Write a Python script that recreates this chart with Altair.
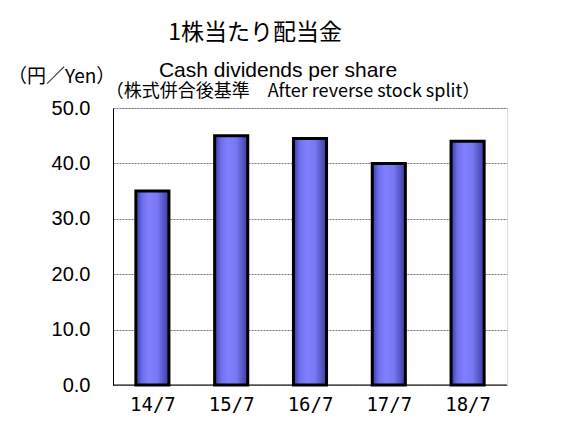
import altair as alt
import pandas as pd

categories = ["14/7", "15/7", "16/7", "17/7", "18/7"]
values = [35.0, 45.0, 44.5, 40.0, 44.0]
title_main = "1株当たり配当金"
title_en = "Cash dividends per share"
title_note = "（株式併合後基準\u3000After reverse stock split）"
unit_label = "（円／Yen）"

df = pd.DataFrame({"period": categories, "dividend": values})

W, H = 394, 277
JP = "Noto Sans CJK JP"

grad = alt.Gradient(
    gradient="linear",
    x1=0, x2=1, y1=0, y2=0,
    stops=[
        alt.GradientStop(color="#3a3aa8", offset=0.0),
        alt.GradientStop(color="#7070ee", offset=0.2),
        alt.GradientStop(color="#8080ff", offset=0.4),
        alt.GradientStop(color="#7878f4", offset=0.65),
        alt.GradientStop(color="#3c3ca0", offset=1.0),
    ],
)

x_enc = alt.X(
    "period:N",
    sort=categories,
    scale=alt.Scale(paddingInner=0.58, paddingOuter=0.29),
    axis=alt.Axis(
        title=None, labelAngle=0, domain=False, tickBand="extent",
        tickSize=6, tickColor="black", tickWidth=1, offset=-6,
        labelFont="DejaVu Sans Mono", labelFontSize=19, labelColor="black",
        labelPadding=10,
    ),
)
y_enc = alt.Y(
    "dividend:Q",
    scale=alt.Scale(domain=[0, 50]),
    axis=alt.Axis(
        title=None, values=[0, 10, 20, 30, 40, 50], format=".1f",
        ticks=False, domainColor="black", domainWidth=1,
        labelFont="Liberation Sans", labelFontSize=20, labelColor="black",
        labelPadding=23, gridColor="#777777", gridDash=[2, 1], gridWidth=1,
    ),
)

bars = alt.Chart(df).mark_bar(
    fill=grad, stroke="black", strokeWidth=3
).encode(x=x_enc, y=y_enc)

base_rule = alt.Chart(pd.DataFrame({"z": [0]})).mark_rule(
    color="black", strokeWidth=1
).encode(y=alt.Y("z:Q"))

def text_layer(txt, x, y, size, align="center", font=JP):
    return alt.Chart(pd.DataFrame({"t": [txt]})).mark_text(
        align=align, baseline="middle", fontSize=size, font=font, color="black"
    ).encode(text="t:N", x=alt.value(x), y=alt.value(y))

t1 = text_layer(title_main, 142, -75, 23)
t2 = text_layer(title_en, 165, -37, 21, font="Liberation Sans")
t3 = text_layer(title_note, 180, -16, 18)
t4 = text_layer(unit_label, -105, -31, 19, align="left")

chart = alt.layer(bars, base_rule, t1, t2, t3, t4).properties(
    width=W, height=H,
    autosize=alt.AutoSizeParams(type="none"),
    padding={"left": 105, "top": 100, "right": 46, "bottom": 31},
).configure_view(stroke="#888888", strokeWidth=1.5).configure(background="white")

chart.save("out.html", embed_options={"renderer": "svg", "actions": False})
